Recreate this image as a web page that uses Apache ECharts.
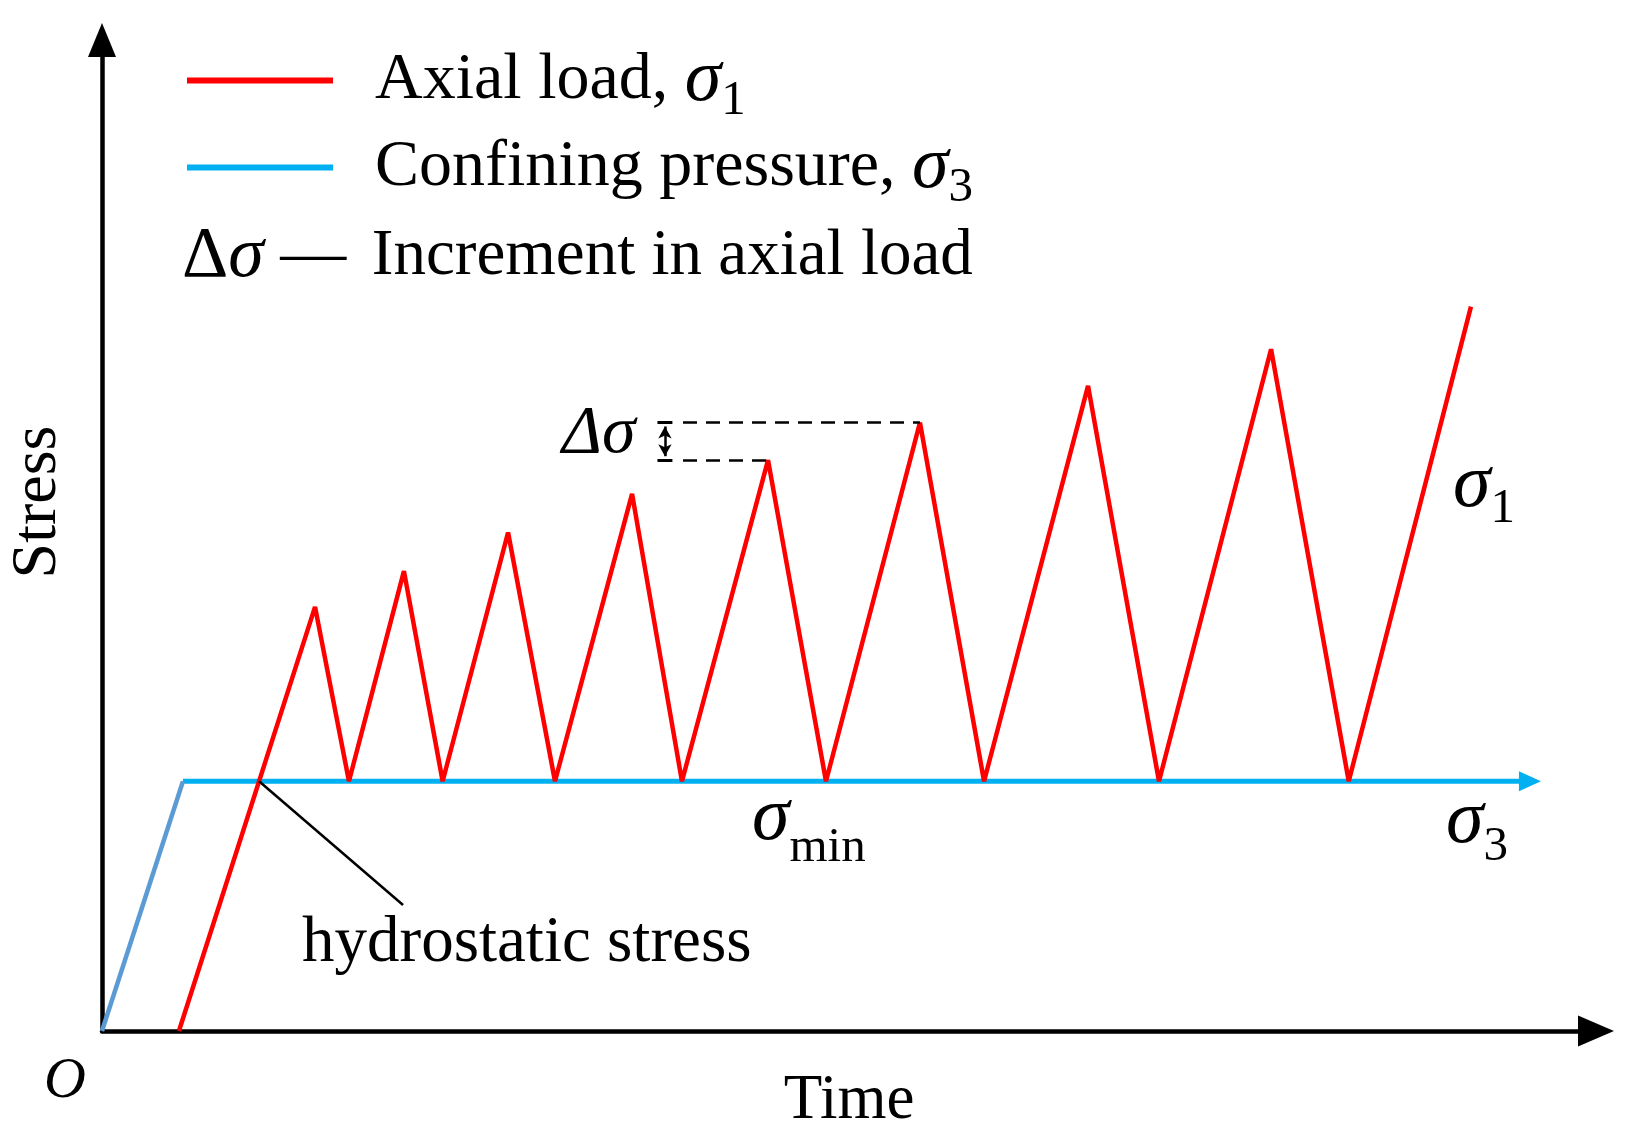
<!DOCTYPE html>
<html>
<head>
<meta charset="utf-8">
<title>Axial load / confining pressure vs time</title>
<script src="https://cdn.jsdelivr.net/npm/echarts@6/dist/echarts.min.js"></script>
<style>
  html, body { margin: 0; padding: 0; background: #fff; }
  #chart { width: 1633px; height: 1146px; }
</style>
</head>
<body>
<div id="chart"></div>
<script>
// values (arbitrary units, time 0-100, stress 0-100)
const axialTime = [5.15, 14.26, 16.53, 20.21, 22.80, 27.18, 30.32, 35.48, 38.82, 44.58, 48.46, 54.75, 59.04, 66.0, 70.75, 78.25, 83.45, 91.63];
const axialStress = [0, 42.8, 25.2, 46.4, 25.2, 50.3, 25.2, 54.2, 25.2, 57.6, 25.2, 61.4, 25.2, 65.1, 25.2, 68.8, 25.2, 73.1];
const rampTime = [0, 5.42];
const rampStress = [0, 25.2];
const confiningTime = [5.42, 95.58];
const confiningStress = [25.2, 25.2];

// annotation anchors
const deltaLeft = 38.89;      // where the dashed lines start
const deltaArrowX = 37.68;    // double arrow position
const leaderEnd = [20.15, 12.71];

const FONT = '"Liberation Serif", "Times New Roman", serif';

const zip = (xs, ys) => xs.map((x, i) => [x, ys[i]]);

// hydrostatic point = first loading segment meets confining level
const hydroStress = confiningStress[0];
const hydroTime = axialTime[0] + (axialTime[1] - axialTime[0]) * (hydroStress - axialStress[0]) / (axialStress[1] - axialStress[0]);

const upperPeak = [axialTime[11], axialStress[11]];
const lowerPeak = [axialTime[9], axialStress[9]];

const confiningData = zip(confiningTime, confiningStress).map((p, i, arr) => {
    if (i === arr.length - 1) {
        return { value: p, symbol: 'triangle', symbolSize: [20, 22], symbolRotate: -90, itemStyle: { color: '#00B0F0' } };
    }
    return { value: p, symbol: 'none' };
});

// sigma with subscript; the subscript is pushed down through its top padding
function sigmaText(x, y, subText, subPad) {
    return {
        type: 'text', x: x, y: y, silent: true,
        style: {
            text: '{s|σ}{b|' + subText + '}',
            align: 'left', verticalAlign: 'top',
            rich: {
                s: { fontFamily: FONT, fontSize: 76, fontStyle: 'italic', fill: '#000', lineHeight: 76 },
                b: { fontFamily: FONT, fontSize: 49, fill: '#000', lineHeight: 49, padding: [subPad, 0, 0, 0] }
            }
        }
    };
}

const chart = echarts.init(document.getElementById('chart'));

const option = {
    animation: false,
    backgroundColor: '#fff',
    grid: { left: 102, right: 37, top: 40, bottom: 115 },
    xAxis: {
        type: 'value', min: 0, max: 100,
        name: 'Time', nameLocation: 'middle', nameGap: 39,
        nameTextStyle: { fontFamily: FONT, fontSize: 63, color: '#000', lineHeight: 63 },
        axisLine: { show: true, lineStyle: { color: '#000', width: 4.5 }, symbol: ['none', 'triangle'], symbolSize: [31, 36] },
        axisTick: { show: false }, axisLabel: { show: false }, splitLine: { show: false }
    },
    yAxis: {
        type: 'value', min: 0, max: 100,
        axisLine: { show: true, lineStyle: { color: '#000', width: 4.5 }, symbol: ['none', 'triangle'], symbolSize: [28, 34] },
        axisTick: { show: false }, axisLabel: { show: false }, splitLine: { show: false }
    },
    legend: {
        left: 187, top: 35, orient: 'vertical', padding: 0, itemGap: -4,
        itemWidth: 146, itemHeight: 6, icon: 'rect', selectedMode: false,
        data: ['Axial load', 'Confining pressure'],
        formatter: function (name) {
            if (name === 'Axial load') return '{g| }{m|Axial load, }{s|σ}{b|1}';
            return '{g| }{m|Confining pressure, }{s|σ}{b|3}';
        },
        textStyle: {
            lineHeight: 66,
            rich: {
                g: { width: 37, lineHeight: 66 },
                m: { fontFamily: FONT, fontSize: 66, color: '#000', lineHeight: 66 },
                s: { fontFamily: FONT, fontSize: 74, fontStyle: 'italic', color: '#000', lineHeight: 66 },
                b: { fontFamily: FONT, fontSize: 49, color: '#000', lineHeight: 49, padding: [42, 0, 0, 0] }
            }
        }
    },
    series: [
        {
            name: 'Axial load', type: 'line', data: zip(axialTime, axialStress),
            symbol: 'none', color: '#FF0000',
            lineStyle: { color: '#FF0000', width: 4.5, join: 'bevel' },
            z: 3,
            markLine: {
                silent: true, symbol: 'none', animation: false,
                label: { show: false },
                lineStyle: { color: '#000', width: 2.5, type: [14, 9] },
                data: [
                    [{ coord: [deltaLeft, upperPeak[1]] }, { coord: upperPeak }],
                    [{ coord: [deltaLeft, lowerPeak[1]] }, { coord: lowerPeak }],
                    [
                        { coord: [deltaArrowX, upperPeak[1] - 0.4], symbol: 'arrow', symbolSize: [10, 12], lineStyle: { type: 'solid', width: 2.5 } },
                        { coord: [deltaArrowX, lowerPeak[1] + 0.4], symbol: 'arrow', symbolSize: [10, 12] }
                    ],
                    [
                        { coord: [deltaArrowX - 0.5, upperPeak[1]], lineStyle: { type: 'solid', width: 3 } },
                        { coord: [deltaArrowX + 0.5, upperPeak[1]] }
                    ],
                    [
                        { coord: [deltaArrowX - 0.5, lowerPeak[1]], lineStyle: { type: 'solid', width: 3 } },
                        { coord: [deltaArrowX + 0.5, lowerPeak[1]] }
                    ]
                ]
            }
        },
        {
            name: 'Confining pressure', type: 'line', data: confiningData,
            symbol: 'none', showSymbol: true, color: '#00B0F0',
            lineStyle: { color: '#00B0F0', width: 5 },
            z: 2
        },
        {
            name: 'ramp', type: 'line', data: zip(rampTime, rampStress),
            symbol: 'none', color: '#5B9BD5',
            lineStyle: { color: '#5B9BD5', width: 4.5 },
            z: 2,
            markLine: {
                silent: true, symbol: 'none', animation: false,
                label: { show: false },
                lineStyle: { color: '#000', width: 2.5, type: 'solid' },
                data: [[{ coord: [hydroTime, hydroStress] }, { coord: leaderEnd }]]
            }
        }
    ],
    graphic: [
        {
            type: 'text', x: 182, y: 224, silent: true,
            style: {
                text: '{d|Δ}{s|σ}{m| — }{n|Increment in axial load}',
                align: 'left', verticalAlign: 'top',
                rich: {
                    d: { fontFamily: FONT, fontSize: 72, fill: '#000', lineHeight: 66 },
                    s: { fontFamily: FONT, fontSize: 72, fontStyle: 'italic', fill: '#000', lineHeight: 66 },
                    m: { fontFamily: FONT, fontSize: 66, fill: '#000', lineHeight: 66, padding: [0, 9, 0, 0] },
                    n: { fontFamily: FONT, fontSize: 65, fill: '#000', lineHeight: 66 }
                }
            }
        },
        {
            type: 'text', x: 38, y: 502, rotation: Math.PI / 2, silent: true,
            style: { text: 'Stress', font: '64px ' + FONT, fill: '#000', align: 'center', verticalAlign: 'middle', lineHeight: 64 }
        },
        {
            type: 'text', x: 44, y: 1053, silent: true,
            style: { text: 'O', font: 'italic 58px ' + FONT, fill: '#000', align: 'left', verticalAlign: 'top', lineHeight: 58 }
        },
        {
            type: 'text', x: 302, y: 911, silent: true,
            style: { text: 'hydrostatic stress', font: '65px ' + FONT, fill: '#000', align: 'left', verticalAlign: 'top', lineHeight: 65 }
        },
        {
            type: 'text', x: 562, y: 400, silent: true,
            style: { text: 'Δσ', font: 'italic 68px ' + FONT, fill: '#000', align: 'left', verticalAlign: 'top', lineHeight: 68 }
        },
        sigmaText(752, 781, 'min', 58),
        sigmaText(1453, 448, '1', 46),
        sigmaText(1446, 784, '3', 50)
    ]
};

chart.setOption(option);
</script>
</body>
</html>
